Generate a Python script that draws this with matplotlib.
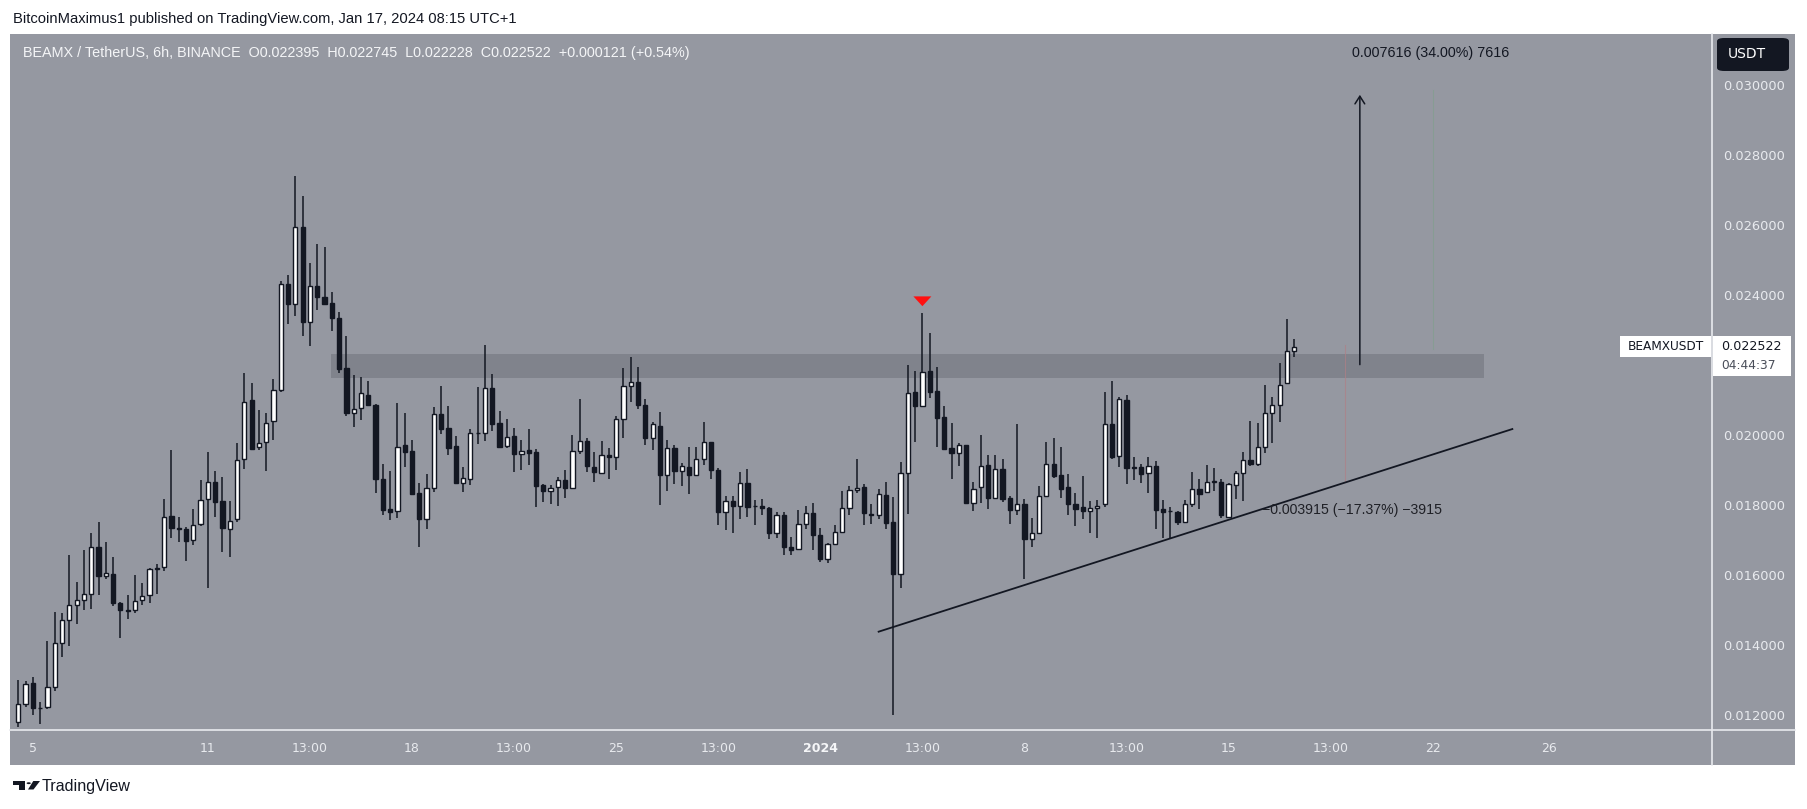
import matplotlib
matplotlib.use("Agg")
import matplotlib.pyplot as plt
import matplotlib.dates as mdates
from matplotlib.patches import Rectangle, FancyBboxPatch, Polygon, Circle
import numpy as np
import pandas as pd

# ---------------- data (BEAMX/USDT, 6h candles, times in UTC+1) ----------------
start_time = "2023-12-04 13:00"
opens = [0.01180,0.01232,0.01292,0.01220,0.01222,0.01279,0.01406,0.01472,0.01513,0.01528,
 0.01547,0.01679,0.01596,0.01604,0.01521,0.01500,0.01499,0.01528,0.01542,0.01616,
 0.01622,0.01769,0.01733,0.01730,0.01699,0.01747,0.01816,0.01867,0.01811,0.01730,
 0.01759,0.01930,0.02099,0.01965,0.01979,0.02039,0.02129,0.02430,0.02373,0.02595,
 0.02322,0.02427,0.02393,0.02377,0.02333,0.02190,0.02064,0.02076,0.02115,0.02087,
 0.01875,0.01788,0.01784,0.01970,0.01953,0.01834,0.01761,0.01849,0.02061,0.02019,
 0.01968,0.01864,0.01875,0.02007,0.02007,0.02133,0.02034,0.01969,0.01996,0.01947,
 0.01956,0.01951,0.01856,0.01841,0.01850,0.01872,0.01849,0.01955,0.01982,0.01908,
 0.01892,0.01944,0.01936,0.02045,0.02141,0.02150,0.02087,0.01990,0.02027,0.01885,
 0.01963,0.01896,0.01908,0.01885,0.01930,0.01979,0.01901,0.01780,0.01810,0.01798,
 0.01862,0.01797,0.01798,0.01792,0.01719,0.01770,0.01679,0.01673,0.01747,0.01777,
 0.01715,0.01646,0.01689,0.01724,0.01790,0.01844,0.01850,0.01773,0.01770,0.01828,
 0.01751,0.01603,0.01890,0.02123,0.02083,0.02183,0.02126,0.02051,0.01962,0.01949,
 0.01970,0.01807,0.01850,0.01913,0.01820,0.01904,0.01819,0.01786,0.01803,0.01704,
 0.01719,0.01825,0.01916,0.01885,0.01850,0.01802,0.01793,0.01784,0.01792,0.01802,
 0.02030,0.01939,0.02100,0.01908,0.01908,0.01890,0.01910,0.01788,0.01783,0.01780,
 0.01750,0.01802,0.01847,0.01837,0.01867,0.01867,0.01767,0.01858,0.01890,0.01929,
 0.01916,0.01965,0.02063,0.02087,0.02148,0.022395]
highs = [0.01300,0.01298,0.01308,0.01237,0.01411,0.01494,0.01490,0.01656,0.01580,0.01670,
 0.01721,0.01751,0.01695,0.01651,0.01523,0.01544,0.01599,0.01577,0.01620,0.01632,
 0.01816,0.01956,0.01765,0.01738,0.01788,0.01871,0.01951,0.01896,0.01879,0.01811,
 0.01977,0.02176,0.02149,0.02070,0.02063,0.02160,0.02440,0.02458,0.02739,0.02682,
 0.02492,0.02545,0.02538,0.02408,0.02351,0.02282,0.02171,0.02167,0.02154,0.02089,
 0.01917,0.01896,0.02091,0.02062,0.01985,0.01862,0.01888,0.02080,0.02139,0.02082,
 0.01997,0.01908,0.02017,0.02137,0.02257,0.02174,0.02069,0.02046,0.02020,0.01985,
 0.02017,0.01960,0.01861,0.01858,0.01880,0.01899,0.02000,0.02103,0.01991,0.01952,
 0.01982,0.01962,0.02054,0.02191,0.02224,0.02195,0.02104,0.02037,0.02066,0.01985,
 0.01970,0.01920,0.01965,0.01965,0.02036,0.01980,0.01905,0.01825,0.01825,0.01894,
 0.01902,0.01814,0.01817,0.01795,0.01780,0.01780,0.01708,0.01787,0.01798,0.01805,
 0.01734,0.01690,0.01744,0.01840,0.01854,0.01930,0.01859,0.01803,0.01847,0.01865,
 0.01822,0.01923,0.02199,0.02183,0.02349,0.02291,0.02195,0.02084,0.02034,0.01977,
 0.01972,0.01866,0.02000,0.01944,0.01942,0.01930,0.01825,0.02031,0.01816,0.01762,
 0.01855,0.01979,0.01990,0.01965,0.01889,0.01835,0.01884,0.01811,0.01814,0.02123,
 0.02154,0.02108,0.02113,0.01937,0.01916,0.01937,0.01925,0.01814,0.01793,0.01783,
 0.01814,0.01894,0.01875,0.01915,0.01905,0.01873,0.01864,0.01897,0.01951,0.02040,
 0.02035,0.02144,0.02108,0.02206,0.02332,0.022745]
lows = [0.01165,0.01222,0.01201,0.01173,0.01218,0.01269,0.01367,0.01398,0.01461,0.01499,
 0.01504,0.01542,0.01589,0.01510,0.01421,0.01474,0.01492,0.01513,0.01520,0.01546,
 0.01611,0.01705,0.01695,0.01641,0.01686,0.01741,0.01562,0.01767,0.01666,0.01650,
 0.01752,0.01903,0.01956,0.01957,0.01897,0.01987,0.02124,0.02318,0.02341,0.02284,
 0.02253,0.02357,0.02370,0.02298,0.02178,0.02055,0.02024,0.02044,0.02082,0.01835,
 0.01771,0.01758,0.01763,0.01909,0.01829,0.01680,0.01732,0.01838,0.02004,0.01943,
 0.01860,0.01838,0.01858,0.01975,0.01983,0.02011,0.01964,0.01964,0.01895,0.01900,
 0.01915,0.01794,0.01809,0.01804,0.01797,0.01820,0.01848,0.01946,0.01895,0.01866,
 0.01890,0.01874,0.01900,0.01990,0.02093,0.02075,0.01972,0.01957,0.01801,0.01840,
 0.01859,0.01853,0.01830,0.01884,0.01915,0.01873,0.01743,0.01729,0.01721,0.01760,
 0.01767,0.01743,0.01771,0.01702,0.01705,0.01658,0.01658,0.01672,0.01732,0.01670,
 0.01637,0.01634,0.01688,0.01723,0.01772,0.01835,0.01743,0.01747,0.01759,0.01731,
 0.01199,0.01562,0.01775,0.01980,0.02081,0.02106,0.01965,0.01958,0.01874,0.01910,
 0.01804,0.01783,0.01806,0.01788,0.01816,0.01809,0.01747,0.01772,0.01589,0.01681,
 0.01718,0.01824,0.01878,0.01819,0.01771,0.01741,0.01759,0.01719,0.01705,0.01793,
 0.01931,0.01908,0.01861,0.01871,0.01863,0.01835,0.01732,0.01705,0.01702,0.01744,
 0.01749,0.01793,0.01788,0.01835,0.01840,0.01762,0.01765,0.01817,0.01812,0.01910,
 0.01910,0.01948,0.01978,0.02037,0.02147,0.022228]
closes = [0.01232,0.01289,0.01219,0.01221,0.01279,0.01406,0.01471,0.01513,0.01528,0.01547,
 0.01681,0.01596,0.01606,0.01520,0.01500,0.01498,0.01526,0.01541,0.01616,0.01621,
 0.01767,0.01733,0.01732,0.01698,0.01744,0.01814,0.01866,0.01809,0.01733,0.01755,
 0.01928,0.02095,0.01960,0.01978,0.02035,0.02129,0.02430,0.02373,0.02595,0.02322,
 0.02427,0.02395,0.02375,0.02333,0.02189,0.02063,0.02075,0.02119,0.02086,0.01874,
 0.01786,0.01781,0.01967,0.01952,0.01832,0.01760,0.01849,0.02061,0.02018,0.01964,
 0.01863,0.01878,0.02007,0.02006,0.02133,0.02032,0.01966,0.01995,0.01946,0.01955,
 0.01949,0.01855,0.01841,0.01849,0.01872,0.01849,0.01955,0.01982,0.01910,0.01895,
 0.01944,0.01936,0.02045,0.02141,0.02150,0.02086,0.01990,0.02030,0.01886,0.01962,
 0.01897,0.01910,0.01885,0.01930,0.01979,0.01900,0.01779,0.01810,0.01798,0.01862,
 0.01795,0.01798,0.01791,0.01719,0.01770,0.01681,0.01672,0.01747,0.01777,0.01714,
 0.01646,0.01689,0.01722,0.01790,0.01844,0.01849,0.01776,0.01772,0.01830,0.01749,
 0.01603,0.01890,0.02120,0.02083,0.02179,0.02124,0.02049,0.01960,0.01949,0.01970,
 0.01806,0.01847,0.01910,0.01820,0.01904,0.01817,0.01786,0.01804,0.01704,0.01719,
 0.01827,0.01918,0.01884,0.01847,0.01802,0.01789,0.01784,0.01792,0.01798,0.02030,
 0.01937,0.02102,0.01907,0.01907,0.01889,0.01910,0.01786,0.01781,0.01782,0.01752,
 0.01802,0.01847,0.01832,0.01867,0.01868,0.01770,0.01859,0.01890,0.01929,0.01916,
 0.01965,0.02063,0.02087,0.02144,0.02240,0.022522]

y_ticks = [0.012, 0.014, 0.016, 0.018, 0.020, 0.022, 0.024, 0.026, 0.028, 0.030]
x_tick_times = ["2023-12-05 01:00", "2023-12-11 01:00", "2023-12-14 13:00", "2023-12-18 01:00",
                "2023-12-21 13:00", "2023-12-25 01:00", "2023-12-28 13:00", "2024-01-01 01:00",
                "2024-01-04 13:00", "2024-01-08 01:00", "2024-01-11 13:00", "2024-01-15 01:00",
                "2024-01-18 13:00", "2024-01-22 01:00", "2024-01-26 01:00"]
x_tick_labels = ["5", "11", "13:00", "18", "13:00", "25", "13:00", "2024", "13:00", "8",
                 "13:00", "15", "13:00", "22", "26"]

# annotations (drawing-tool objects)
zone_low, zone_high = 0.02162, 0.02231
zone_start, zone_end = "2023-12-15 06:30", "2024-01-23 19:00"
trend_start, trend_end = ("2024-01-03 01:00", 0.01438), ("2024-01-24 18:30", 0.02017)
peak_marker_time, peak_marker_price = "2024-01-04 13:00", 0.02382
arrow_time, arrow_from, arrow_to = "2024-01-19 13:00", 0.02201, 0.02972
green_line_time, green_from, green_to = "2024-01-22 01:00", 0.02245, 0.02985
red_line_time, red_from, red_to = "2024-01-19 01:00", 0.01866, 0.02256
gain_label_time, gain_label_price = "2024-01-19 06:30", 0.030914
loss_label_time, loss_label_price = "2024-01-16 04:30", 0.017857
last_price = 0.022522
last_price_text = "0.022522"

# ---------------- style ----------------
W, H = 1807, 809
BG = "#9598a1"
ZONE = "#80838c"
DARK = "#131722"
AXTXT = "#e8eaee"

fig = plt.figure(figsize=(W / 100, H / 100), dpi=100)
fig.patch.set_facecolor("white")

def fx(px):
    return px / W

def fy(py):
    return 1 - py / H

def tnum(s):
    return mdates.date2num(pd.Timestamp(s))

# chart panel background
fig.patches.append(Rectangle((fx(10), fy(765)), fx(1795) - fx(10), fy(34) - fy(765),
                             transform=fig.transFigure, facecolor=BG, edgecolor="none", zorder=-5))

ax = fig.add_axes([fx(10), fy(730), fx(1712) - fx(10), fy(34) - fy(730)])
ax.set_zorder(1)
ax.set_facecolor(BG)
for s in ax.spines.values():
    s.set_visible(False)

times = pd.date_range(start_time, periods=len(opens), freq="6h")
x = mdates.date2num(times)
step = 0.25
o = np.array(opens); h = np.array(highs); l = np.array(lows); c = np.array(closes)
up = c >= o

ax.set_xlim(x[0] - 1.14 * step, x[0] + 232.3 * step)
ax.set_ylim(0.011571, 0.031457)

# zone
z0 = tnum(zone_start); z1 = tnum(zone_end)
ax.add_patch(Rectangle((z0, zone_low), z1 - z0, zone_high - zone_low, facecolor=ZONE,
                       edgecolor="none", zorder=1))

# candles
ax.vlines(x, l, h, color=DARK, linewidth=1.1, zorder=2)
bottoms = np.minimum(o, c)
heights = np.maximum(np.abs(c - o), 0.000004)
ax.bar(x, heights, bottom=bottoms, width=step * 0.58,
       color=np.where(up, "#ffffff", DARK), edgecolor=DARK, linewidth=1.0, zorder=3)

# trend line
ax.plot([tnum(trend_start[0]), tnum(trend_end[0])], [trend_start[1], trend_end[1]],
        color=DARK, linewidth=1.3, zorder=4)

# red marker
pm = tnum(peak_marker_time)
hw = 9 / 7.291 * step
ax.add_patch(Polygon([[pm - hw, peak_marker_price + 0.00014], [pm + hw, peak_marker_price + 0.00014],
                      [pm, peak_marker_price - 0.00014]], closed=True, facecolor="#ff1010",
                     edgecolor="none", zorder=5))

# measurement arrow + faint tool lines
xa = tnum(arrow_time)
ax.annotate("", xy=(xa, arrow_to), xytext=(xa, arrow_from),
            arrowprops=dict(arrowstyle="->,head_length=0.55,head_width=0.35", color=DARK,
                            lw=1.1, shrinkA=0, shrinkB=0), zorder=5)
xg = tnum(green_line_time)
ax.plot([xg, xg], [green_from, green_to], color="#7fa08a", lw=0.8, alpha=0.6, zorder=1)
xr = tnum(red_line_time)
ax.plot([xr, xr], [red_from, red_to], color="#b07f86", lw=0.8, alpha=0.7, zorder=1)

ax.text(tnum(gain_label_time), gain_label_price, "0.007616 (34.00%) 7616", fontsize=10.3,
        color=DARK, va="center", ha="left", family="Liberation Sans", zorder=6)
ax.text(tnum(loss_label_time), loss_label_price, "\u22120.003915 (\u221217.37%) \u22123915",
        fontsize=10.2, color="#1f2026", va="center", ha="left", family="Liberation Sans", zorder=6)

# axes ticks (the label hidden behind the last-price tag is left blank)
ax.yaxis.tick_right()
ax.set_yticks(y_ticks)
ax.set_yticklabels(["" if abs(v - last_price) < 0.0006 else f"{v:.6f}" for v in y_ticks])
ax.tick_params(axis="y", length=0, pad=8, labelsize=9.4, labelcolor=AXTXT)
ax.set_xticks(mdates.date2num(pd.to_datetime(x_tick_times)))
ax.set_xticklabels(x_tick_labels)
ax.tick_params(axis="x", length=0, pad=9, labelsize=9, labelcolor=AXTXT)
for lab in ax.get_xticklabels() + ax.get_yticklabels():
    lab.set_family("DejaVu Sans")
for lab in ax.get_xticklabels():
    if lab.get_text() == "2024":
        lab.set_fontweight("bold")
        lab.set_color("#f5f6f8")

# separator lines
fig.add_artist(plt.Line2D([fx(1712), fx(1712)], [fy(765), fy(34)], transform=fig.transFigure,
                          color="#e9eaee", lw=1.2, zorder=5))
fig.add_artist(plt.Line2D([fx(10), fx(1795)], [fy(730), fy(730)], transform=fig.transFigure,
                          color="#e9eaee", lw=1.2, zorder=5))

# header texts
fig.text(fx(13), fy(19), "BitcoinMaximus1 published on TradingView.com, Jan 17, 2024 08:15 UTC+1",
         fontsize=10.6, color=DARK, va="center", ha="left", family="Liberation Sans")
fig.text(fx(23), fy(53), "BEAMX / TetherUS, 6h, BINANCE  O0.022395  H0.022745  L0.022228  C0.022522  +0.000121 (+0.54%)",
         fontsize=10.4, color="#f4f5f7", va="center", ha="left", family="Liberation Sans", zorder=6)

# USDT box
fig.patches.append(FancyBboxPatch((fx(1717), fy(71)), fx(1789) - fx(1717), fy(38) - fy(71),
                                  boxstyle="round,pad=0,rounding_size=0.004", transform=fig.transFigure,
                                  facecolor=DARK, edgecolor="none", zorder=6))
fig.text(fx(1728), fy(54.5), "USDT", fontsize=10, color="white", va="center", ha="left",
         family="DejaVu Sans", zorder=7)

# last price tag
fig.patches.append(Rectangle((fx(1713), fy(376)), fx(1791) - fx(1713), fy(336) - fy(376),
                             transform=fig.transFigure, facecolor="white", edgecolor="none", zorder=6))
fig.text(fx(1721), fy(346), last_price_text, fontsize=9.2, color=DARK, va="center", ha="left",
         family="DejaVu Sans", zorder=7)
fig.text(fx(1721), fy(365.5), "04:44:37", fontsize=8.8, color="#4a4e59", va="center", ha="left",
         family="DejaVu Sans", zorder=7)
fig.patches.append(Rectangle((fx(1620), fy(357)), fx(1711) - fx(1620), fy(336) - fy(357),
                             transform=fig.transFigure, facecolor="white", edgecolor="none", zorder=6))
fig.text(fx(1665.5), fy(346.5), "BEAMXUSDT", fontsize=8.7, color=DARK, va="center", ha="center",
         family="DejaVu Sans", zorder=7)

# TradingView logo + text
fig.patches.append(Polygon([[fx(13.3), fy(781)], [fx(25), fy(781)], [fx(25), fy(789.5)],
                            [fx(19.3), fy(789.5)], [fx(19.3), fy(784.7)], [fx(13.3), fy(784.7)]],
                           closed=True, transform=fig.transFigure, facecolor=DARK, edgecolor="none", zorder=6))
fig.patches.append(Circle((fx(28.7), fy(783.2)), 2.1 / W, transform=fig.transFigure,
                          facecolor=DARK, edgecolor="none", zorder=6))
fig.patches.append(Polygon([[fx(33.3), fy(781)], [fx(40), fy(781)], [fx(33.5), fy(789.5)], [fx(28), fy(789.5)]],
                           closed=True, transform=fig.transFigure, facecolor=DARK, edgecolor="none", zorder=6))
fig.text(fx(42), fy(786), "TradingView", fontsize=11.6, color=DARK, va="center", ha="left",
         family="Liberation Sans")

fig.savefig("out.png", dpi=100, facecolor="white")
